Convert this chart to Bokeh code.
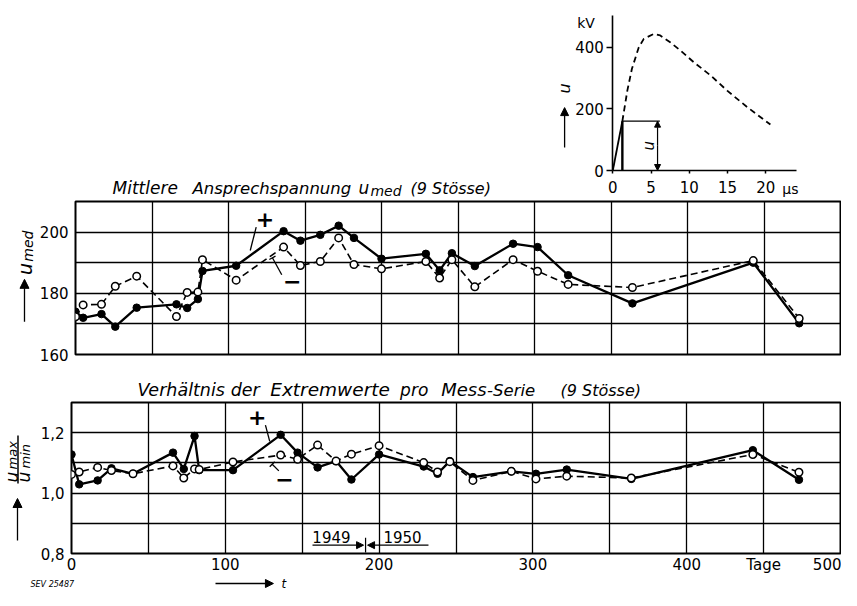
import numpy as np
from bokeh.plotting import figure
from bokeh.layouts import column, row
from bokeh.models import (Range1d, FixedTicker, Label, Arrow, NormalHead, TeeHead,
                          CustomJSTickFormatter)
from bokeh.embed import file_html
from bokeh.resources import INLINE

# ---------------- data ----------------
days = [0, 5, 17, 26, 40, 66, 73, 80, 83, 105, 136, 147, 160, 172, 182, 200,
        229, 238, 246, 261, 286, 302, 322, 364, 443, 473]
umed_pos = [174.0, 172.0, 173.2, 169.1, 175.3, 176.4, 175.2, 178.1, 187.3, 189.0,
            200.3, 197.2, 199.1, 202.1, 198.1, 191.3, 192.9, 187.5, 193.1, 188.9,
            196.2, 195.1, 185.9, 176.7, 190.0, 170.2]
umed_neg = [172.3, 176.2, 176.4, 182.3, 185.6, 172.4, 180.3, 180.4, 191.0, 184.3,
            195.1, 189.1, 190.4, 198.1, 189.4, 188.0, 190.4, 185.0, 191.0, 182.1,
            191.0, 187.2, 182.9, 181.9, 190.7, 171.8]
ratio_pos = [1.128, 1.029, 1.042, 1.082, 1.064, 1.134, 1.080, 1.189, 1.076, 1.076,
             1.193, 1.134, 1.085, 1.106, 1.045, 1.128, 1.088, 1.064, 1.106, 1.053,
             1.072, 1.064, 1.078, 1.047, 1.142, 1.044]
ratio_neg = [1.062, 1.070, 1.085, 1.075, 1.064, 1.090, 1.050, 1.080, 1.078, 1.103,
             1.126, 1.112, 1.159, 1.106, 1.129, 1.157, 1.101, 1.070, 1.104, 1.042,
             1.072, 1.047, 1.056, 1.050, 1.128, 1.069]

grid_days = [0, 50, 100, 150, 200, 250, 300, 350, 400, 450, 500]
label_days = [0, 100, 200, 300, 400, 450, 500]
umed_grid = [160, 170, 180, 190, 200, 210]
umed_ticks = [160, 180, 200]
ratio_grid = [0.8, 0.9, 1.0, 1.1, 1.2, 1.3]
ratio_ticks = [0.8, 1.0, 1.2]

# inset: impulse wave (kV over microseconds)
wave_t = [1.25, 1.9, 2.5, 3.4, 4.05, 5.36, 6.2, 7.5, 8.85, 10.6, 12.8, 14.95, 17.6, 20.6]
wave_u = [160, 259, 330, 400, 427, 443, 438, 416, 389, 351, 308, 259, 205, 149]
front_t = [0, 1.25]
front_u = [0, 160]
chop_t = [1.25, 1.25]
chop_u = [0, 160]
level_t = [1.25, 6.15]
level_u = [160, 160]
inset_xticks = [0, 5, 10, 15, 20]
inset_yticks = [0, 200, 400]

FONT = "DejaVu Sans"
BLACK = "black"
UP = np.pi / 2


def strip(width, height, xr, yr):
    p = figure(width=width, height=height, x_range=Range1d(*xr), y_range=Range1d(*yr),
               x_axis_location=None, y_axis_location=None, min_border=0,
               toolbar_location=None, output_backend="svg", outline_line_color=None)
    p.grid.visible = False
    return p


def txt(p, x, y, s, size="15px", style="normal", align="left", baseline="middle",
        angle=0.0):
    p.add_layout(Label(x=x, y=y, text=s, text_font=FONT, text_font_size=size,
                       text_font_style=style, text_align=align, text_baseline=baseline,
                       angle=angle, text_color=BLACK))


def arrow(p, x0, y0, x1, y1, head="normal", size=8, width=1.3):
    if head == "normal":
        end = NormalHead(size=size, fill_color=BLACK, line_color=BLACK)
    elif head == "tee":
        end = TeeHead(size=size, line_color=BLACK, line_width=width)
    else:
        end = None
    p.add_layout(Arrow(x_start=x0, y_start=y0, x_end=x1, y_end=y1, end=end,
                       line_color=BLACK, line_width=width))


# ---------------- title strip of the upper panel ----------------
ptitle = strip(555, 199, (-46.16, 314.7), (210.654, 275.686))
txt(ptitle, 26.66, 214.44, "Mittlere", size="17px", style="italic")
txt(ptitle, 78.67, 214.38, "Ansprechspannung", size="16.5px", style="italic")
txt(ptitle, 186.6, 214.44, "u", size="17px", style="italic")
txt(ptitle, 194.4, 213.30, "med", size="14px", style="italic")
txt(ptitle, 220.4, 214.35, "(9 Stösse)", size="16px", style="italic")

# ---------------- inset ----------------
pin = figure(width=286, height=199, x_range=Range1d(-7.490, 29.895),
             y_range=Range1d(-94.06, 551.4), min_border=0, toolbar_location=None,
             output_backend="svg", outline_line_color=None)
pin.grid.visible = False
pin.xaxis.ticker = FixedTicker(ticks=inset_xticks)
pin.yaxis.ticker = FixedTicker(ticks=inset_yticks)
pin.xaxis.fixed_location = 0
pin.yaxis.fixed_location = 0
pin.xaxis.bounds = (0, 24)
pin.yaxis.bounds = (0, 503)
for ax in (pin.xaxis[0], pin.yaxis[0]):
    ax.axis_line_color = BLACK
    ax.axis_line_width = 1.6
    ax.major_tick_line_color = BLACK
    ax.major_tick_line_width = 1.5
    ax.major_tick_in = 0
    ax.minor_tick_line_color = None
    ax.major_label_text_font = FONT
    ax.major_label_text_font_size = "15px"
    ax.major_label_text_color = BLACK
pin.xaxis.major_tick_out = 3
pin.xaxis.major_label_standoff = 7
pin.yaxis.major_tick_out = 6
pin.yaxis.major_label_standoff = 3
pin.line(wave_t, wave_u, line_color=BLACK, line_width=1.8, line_dash="6 4")
pin.line(front_t, front_u, line_color=BLACK, line_width=1.8)
pin.line(chop_t, chop_u, line_color=BLACK, line_width=2.4)
pin.line(level_t, level_u, line_color=BLACK, line_width=1.3)
arrow(pin, 5.85, 80, 5.85, 160, size=6, width=1.2)
arrow(pin, 5.85, 80, 5.85, 0, size=6, width=1.2)
txt(pin, 4.73, 65, "u", size="15px", style="italic", angle=UP)
txt(pin, -3.5, 480, "kV", size="14px", align="center")
txt(pin, 22.15, -61.6, "µs", size="14px")
txt(pin, -6.31, 250, "u", size="16px", style="italic", angle=UP)
arrow(pin, -6.3, 75, -6.3, 204, size=8)


def style_panel(p, ygrid, yticks):
    p.xgrid.ticker = FixedTicker(ticks=grid_days)
    p.ygrid.ticker = FixedTicker(ticks=ygrid)
    for g in (p.xgrid[0], p.ygrid[0]):
        g.grid_line_color = BLACK
        g.grid_line_width = 1.3
        g.grid_line_alpha = 1.0
    p.outline_line_color = BLACK
    p.outline_line_width = 2
    p.yaxis.ticker = FixedTicker(ticks=yticks)
    for ax in (p.xaxis[0], p.yaxis[0]):
        ax.axis_line_color = None
        ax.major_tick_line_color = None
        ax.minor_tick_line_color = None
        ax.major_tick_out = 0
        ax.major_tick_in = 0
        ax.major_label_text_font = FONT
        ax.major_label_text_font_size = "15px"
        ax.major_label_text_color = BLACK
    p.yaxis.major_label_standoff = 7


def draw_series(p, ypos, yneg):
    p.line(days, yneg, line_color=BLACK, line_width=1.6, line_dash="7 4")
    p.line(days, ypos, line_color=BLACK, line_width=2.3)
    p.scatter(days, ypos, marker="circle", size=7.5, fill_color=BLACK, line_color=BLACK)
    p.scatter(days, yneg, marker="circle", size=7.5, fill_color="white",
              line_color=BLACK, line_width=1.5)


LEFT_X = (-46.16, -22.757)   # day-scale extent of the 36 px label strips

# ---------------- upper panel ----------------
ylab1 = strip(36, 173, LEFT_X, (154.12, 210.654))
txt(ylab1, -30.23, 183.53, "u", size="19px", style="italic", angle=UP)
txt(ylab1, -27.96, 188.43, "med", size="14px", style="italic", angle=UP)
arrow(ylab1, -30.56, 166.21, -30.56, 181.9, size=9)

p1 = figure(width=805, height=173, x_range=Range1d(0, 500), y_range=Range1d(160, 210),
            min_border_left=35, min_border_right=1, min_border_top=2,
            min_border_bottom=18, toolbar_location=None, output_backend="svg")
style_panel(p1, umed_grid, umed_ticks)
p1.xaxis.visible = False
draw_series(p1, umed_pos, umed_neg)
txt(p1, 123.9, 204.35, "+", size="22px", style="bold", align="center")
arrow(p1, 118.1, 201.6, 114.2, 193.99, head=None)
txt(p1, 141.7, 184.18, "−", size="22px", style="bold", align="center")
arrow(p1, 134.8, 186.05, 128.7, 191.6, head="tee", size=7)

# ---------------- lower panel ----------------
ylab2 = strip(36, 204, LEFT_X, (0.73506, 1.3974))
txt(ylab2, -38.69, 1.0403, "u", size="17px", style="italic", angle=UP)
txt(ylab2, -38.04, 1.0825, "max", size="13px", style="italic", angle=UP)
arrow(ylab2, -34.79, 1.0370, -34.79, 1.1929, head=None, width=1.5)
txt(ylab2, -30.88, 1.0403, "u", size="17px", style="italic", angle=UP)
txt(ylab2, -29.91, 1.0857, "min", size="13px", style="italic", angle=UP)
arrow(ylab2, -35.11, 0.8519, -35.11, 0.9883, size=9)

title2 = strip(805, 28, (-22.757, 500.65), (1.30649, 1.3974))
for s, x, y, fs in [("Verhältnis", 22.11, 1.3415, "17.5px"), ("der", 85.6, 1.3415, "17.5px"),
                    ("Extremwerte", 112.5, 1.3435, "18.5px"), ("pro", 200.9, 1.3410, "17px"),
                    ("Mess", 228.9, 1.3420, "18px"), ("-Serie", 260.1, 1.3400, "16.5px"),
                    ("(9 Stösse)", 310.1, 1.3398, "16px")]:
    txt(title2, x, y, s, size=fs, style="italic")

p2 = figure(width=805, height=176, x_range=Range1d(0, 500), y_range=Range1d(0.8, 1.3),
            min_border_left=35, min_border_right=1, min_border_top=2,
            min_border_bottom=20, toolbar_location=None, output_backend="svg")
style_panel(p2, ratio_grid, ratio_ticks)
p2.xaxis.ticker = FixedTicker(ticks=label_days)
p2.xaxis.major_label_standoff = 2
p2.xaxis.formatter = CustomJSTickFormatter(code="return tick == 450 ? 'Tage' : tick.toFixed(0);")
p2.yaxis.formatter = CustomJSTickFormatter(code="return tick.toFixed(1).replace('.', ',');")
draw_series(p2, ratio_pos, ratio_neg)
txt(p2, 120.7, 1.2523, "+", size="22px", style="bold", align="center")
arrow(p2, 126.1, 1.2253, 128.9, 1.1711, head=None)
txt(p2, 138.5, 1.0468, "−", size="22px", style="bold", align="center")
arrow(p2, 134.8, 1.0737, 130.5, 1.0955, head="tee", size=7)
txt(p2, 169.0, 0.8552, "1949", size="15px", align="center")
txt(p2, 215.2, 0.8552, "1950", size="15px", align="center")
arrow(p2, 156.7, 0.8276, 189.9, 0.8276, size=7, width=1.2)
arrow(p2, 232.1, 0.8276, 192.5, 0.8276, size=7, width=1.2)
arrow(p2, 191.2, 0.8032, 191.2, 0.8519, head=None, width=1.2)

# ---------------- bottom strip ----------------
bottom = strip(841, 14, (-46.16, 500.65), (0, 14))
arrow(bottom, 93.63, 7, 131.3, 7, size=8, width=1.4)
txt(bottom, 136.5, 7, "t", size="12px", style="italic")
txt(bottom, -26.66, 6, "SEV 25487", size="8px", style="italic")

layout = column(row(ptitle, pin),
                row(ylab1, p1),
                row(ylab2, column(title2, p2)),
                bottom)
open("out.html", "w").write(file_html(layout, INLINE))
